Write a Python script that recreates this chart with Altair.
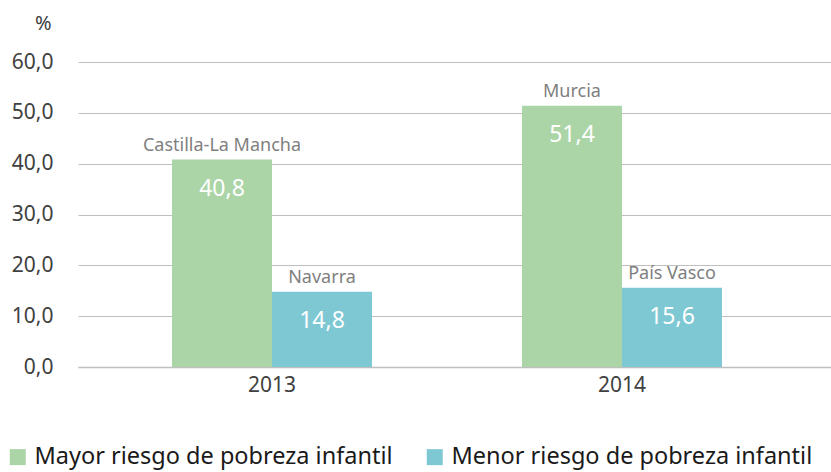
import altair as alt
import pandas as pd

years = ["2013", "2013", "2014", "2014"]
groups = ["Mayor riesgo de pobreza infantil", "Menor riesgo de pobreza infantil",
          "Mayor riesgo de pobreza infantil", "Menor riesgo de pobreza infantil"]
values = [40.8, 14.8, 51.4, 15.6]
regions = ["Castilla-La Mancha", "Navarra", "Murcia", "País Vasco"]
labels = ["40,8", "14,8", "51,4", "15,6"]

group_domain = ["Mayor riesgo de pobreza infantil", "Menor riesgo de pobreza infantil"]
colors = ["#abd5a7", "#7ec8d4"]

df = pd.DataFrame({"year": years, "group": groups, "value": values,
                   "region": regions, "label": labels})

FONT = "Noto Sans"

x = alt.X("year:N", title=None,
          scale=alt.Scale(paddingInner=0.4286, paddingOuter=0.29, align=0.463),
          axis=alt.Axis(labelAngle=0, labelFontSize=21, labelColor="#404040",
                        labelFont=FONT, ticks=False, domainColor="#bfbfbf",
                        domainWidth=1.5, labelPadding=7))
xo = alt.XOffset("group:N", scale=alt.Scale(domain=group_domain, paddingInner=0, paddingOuter=0))

base = alt.Chart(df).encode(x=x, xOffset=xo)

bars = base.mark_bar().encode(
    y=alt.Y("value:Q", title="%",
            scale=alt.Scale(domain=[0, 60], nice=False),
            axis=alt.Axis(values=[0, 10, 20, 30, 40, 50, 60],
                          labelExpr="replace(format(datum.value, '.1f'), '.', ',')",
                          labelFontSize=21, labelColor="#404040", labelFont=FONT,
                          ticks=False, domain=False, labelPadding=25,
                          gridColor="#bfbfbf", gridWidth=1.2,
                          titleAngle=0, titleFontSize=20, titleFontWeight="normal",
                          titleColor="#404040", titleFont=FONT,
                          titleAlign="right", titleBaseline="middle",
                          titleX=-27, titleY=-39)),
    color=alt.Color("group:N", title=None,
                    scale=alt.Scale(domain=group_domain, range=colors),
                    legend=alt.Legend(orient="none", legendX=-72, legendY=383,
                                      direction="horizontal", symbolType="square",
                                      symbolSize=256, symbolStrokeWidth=0,
                                      labelFontSize=23.5, labelFont=FONT,
                                      labelColor="#1a1a1a", labelOffset=5,
                                      columnPadding=30, labelLimit=600)),
)

region_text = base.mark_text(baseline="bottom", dy=-5, fontSize=18, font=FONT,
                             color="#7f7f7f").encode(
    y="value:Q", text="region:N")

value_text = base.mark_text(baseline="middle", dy=29, fontSize=23, font=FONT,
                            color="white").encode(
    y="value:Q", text="label:N")

chart = alt.layer(bars, region_text, value_text).properties(
    width=753, height=305,
    autosize=alt.AutoSizeParams(type="none"),
    padding={"left": 78, "top": 62, "right": 0, "bottom": 105},
).configure_view(stroke=None)

chart.save("out.html", embed_options={"renderer": "svg", "actions": False})
